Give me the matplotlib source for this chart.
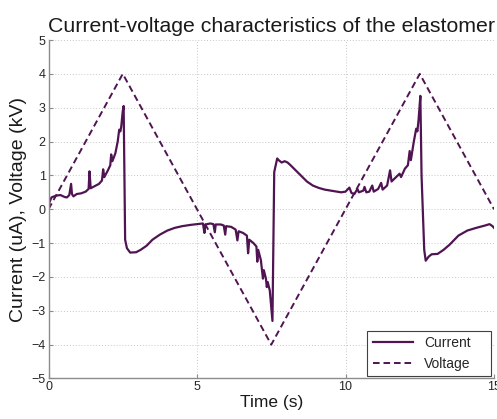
import numpy as np
import matplotlib
matplotlib.use("Agg")
import matplotlib.pyplot as plt

plt.rcParams['font.family'] = ['Liberation Sans', 'DejaVu Sans']

# voltage: triangle wave (time s, kV)
voltage_t = [0.0, 2.5, 7.5, 12.5, 15.0]
voltage_kv = [0.0, 4.0, -4.0, 4.0, 0.0]

# current (time s, uA)
current_t = [
    0.0, 0.03, 0.1, 0.25, 0.4, 0.55, 0.62, 0.7, 0.76, 0.79, 0.84, 0.95,
    1.1, 1.25, 1.35, 1.38, 1.42, 1.55, 1.7, 1.8, 1.84, 1.88, 2.0, 2.08,
    2.11, 2.15, 2.25, 2.33, 2.38, 2.42, 2.45, 2.5, 2.53, 2.58, 2.64, 2.75,
    2.95, 3.1, 3.3, 3.5, 3.75, 4.0, 4.25, 4.5, 4.8, 5.1, 5.2, 5.25,
    5.28, 5.45, 5.55, 5.6, 5.63, 5.8, 5.9, 5.95, 5.98, 6.15, 6.3, 6.36,
    6.4, 6.55, 6.68, 6.72, 6.76, 6.9, 7.0, 7.03, 7.06, 7.15, 7.22, 7.25,
    7.32, 7.35, 7.38, 7.45, 7.5, 7.54, 7.6, 7.7, 7.75, 7.85, 7.95, 8.05,
    8.15, 8.3, 8.5, 8.7, 8.9, 9.1, 9.3, 9.5, 9.7, 9.85, 10.0, 10.13,
    10.2, 10.3, 10.4, 10.45, 10.6, 10.64, 10.7, 10.8, 10.9, 10.95, 11.1, 11.2,
    11.25, 11.4, 11.5, 11.55, 11.7, 11.82, 11.87, 12.0, 12.1, 12.16, 12.2, 12.3,
    12.38, 12.42, 12.46, 12.52, 12.56, 12.65, 12.7, 12.8, 12.9, 13.1, 13.3, 13.5,
    13.8, 14.1, 14.4, 14.7, 14.85, 14.95, 15.0,
]
current_ua = [
    0.0, 0.2, 0.35, 0.4, 0.42, 0.36, 0.35, 0.42, 0.75, 0.45, 0.38, 0.45,
    0.47, 0.52, 0.6, 1.12, 0.62, 0.68, 0.75, 0.85, 1.18, 0.95, 1.15, 1.3,
    1.62, 1.42, 1.65, 2.0, 2.35, 2.3, 2.45, 2.9, 3.05, -0.9, -1.15, -1.28,
    -1.27, -1.2, -1.08, -0.9, -0.75, -0.63, -0.55, -0.5, -0.46, -0.43, -0.42, -0.7,
    -0.45, -0.42, -0.44, -0.68, -0.45, -0.45, -0.48, -0.75, -0.5, -0.52, -0.6, -0.92,
    -0.65, -0.7, -0.78, -1.3, -0.9, -1.0, -1.1, -1.55, -1.2, -1.5, -2.05, -1.8,
    -2.05, -2.3, -2.15, -2.4, -2.9, -3.3, 1.1, 1.5, 1.45, 1.38, 1.42, 1.38,
    1.3, 1.17, 1.0, 0.82, 0.7, 0.63, 0.58, 0.55, 0.52, 0.5, 0.52, 0.64,
    0.48, 0.45, 0.6, 0.5, 0.55, 0.66, 0.5, 0.52, 0.7, 0.52, 0.6, 0.78,
    0.58, 0.7, 1.15, 0.82, 0.95, 1.05, 0.95, 1.2, 1.3, 1.72, 1.45, 2.0,
    2.38, 2.3, 2.65, 3.35, 1.0, -1.2, -1.52, -1.4, -1.33, -1.32, -1.2, -1.05,
    -0.78, -0.63, -0.55, -0.48, -0.44, -0.5, -0.55,
]

xticks = [0, 5, 10, 15]
yticks = [-5, -4, -3, -2, -1, 0, 1, 2, 3, 4, 5]

line_color = '#501452'
text_color = '#262626'

fig = plt.figure(figsize=(4.97, 4.19), dpi=100)
ax = fig.add_axes([0.0976, 0.0967, 0.8964, 0.8078])

ax.plot(current_t, current_ua, color=line_color, lw=1.6, label='Current')
ax.plot(voltage_t, voltage_kv, color=line_color, lw=1.4, dashes=(3.4, 2.0),
        label='Voltage')

ax.set_xlim(0, 15)
ax.set_ylim(-5, 5)
ax.set_xticks(xticks)
ax.set_yticks(yticks)
ax.grid(True, color='#c8c8c8', lw=0.7, linestyle=(0, (1, 2)))

for side in ['top', 'right']:
    ax.spines[side].set_visible(False)
for side in ['left', 'bottom']:
    ax.spines[side].set_color('#8c8c8c')
    ax.spines[side].set_linewidth(1.0)
ax.tick_params(direction='in', length=3, color='#8c8c8c', labelsize=9,
               labelcolor=text_color, pad=2)

ax.set_title('Current-voltage characteristics of the elastomer', fontsize=15.3,
             color='#1a1a1a', pad=6)
ax.set_xlabel('Time (s)', fontsize=12.5, color='#1a1a1a', labelpad=1)
ax.set_ylabel('Current (uA), Voltage (kV)', fontsize=14, color='#1a1a1a',
              labelpad=3)

leg = ax.legend(loc='lower left', bbox_to_anchor=(0.715, 0.007, 0.279, 0.142),
                mode='expand', fontsize=10, fancybox=False,
                edgecolor='#404040', borderaxespad=0.0, handlelength=2.9,
                framealpha=1, labelspacing=0.45)
leg.get_frame().set_linewidth(0.8)
for t in leg.get_texts():
    t.set_color(text_color)

fig.savefig('out.png', dpi=100)
